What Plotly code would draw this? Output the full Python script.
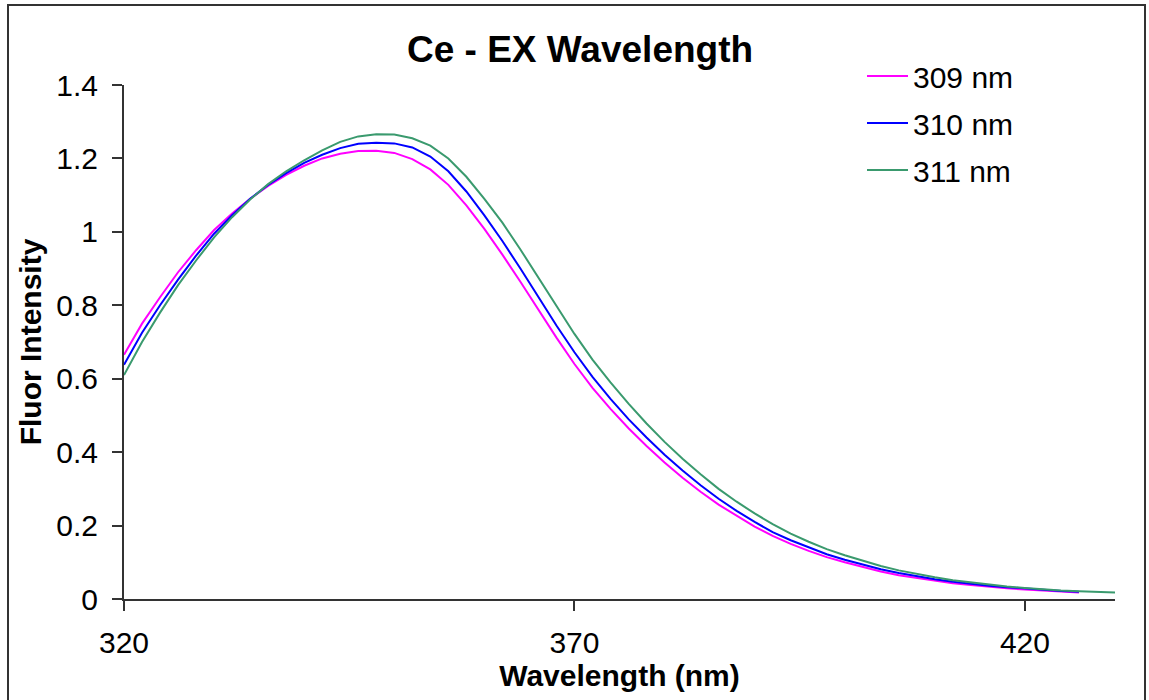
import plotly.graph_objects as go

wl_309 = list(range(320, 427, 2))
wl_310 = list(range(320, 427, 2))
wl_311 = list(range(320, 431, 2))

fi_309 = [0.665, 0.750, 0.822, 0.890, 0.950, 1.005, 1.050, 1.090, 1.125, 1.155,
          1.180, 1.200, 1.213, 1.220, 1.221, 1.215, 1.198, 1.170, 1.128, 1.072,
          1.008, 0.938, 0.864, 0.788, 0.712, 0.640, 0.575, 0.518, 0.465, 0.417,
          0.372, 0.330, 0.292, 0.257, 0.226, 0.197, 0.172, 0.150, 0.131, 0.114,
          0.100, 0.087, 0.075, 0.065, 0.057, 0.049, 0.043, 0.038, 0.033, 0.029,
          0.026, 0.023, 0.020, 0.018]
fi_310 = [0.638, 0.725, 0.800, 0.870, 0.935, 0.995, 1.045, 1.090, 1.128, 1.160,
          1.188, 1.210, 1.228, 1.240, 1.243, 1.241, 1.230, 1.205, 1.165, 1.110,
          1.045, 0.975, 0.900, 0.822, 0.745, 0.672, 0.605, 0.545, 0.490, 0.440,
          0.393, 0.350, 0.310, 0.273, 0.240, 0.210, 0.182, 0.160, 0.140, 0.122,
          0.107, 0.093, 0.081, 0.071, 0.062, 0.054, 0.047, 0.041, 0.036, 0.032,
          0.028, 0.025, 0.022, 0.020]
fi_311 = [0.610, 0.700, 0.780, 0.855, 0.922, 0.985, 1.040, 1.088, 1.130, 1.165,
          1.195, 1.222, 1.245, 1.260, 1.266, 1.265, 1.255, 1.235, 1.200, 1.150,
          1.090, 1.025, 0.952, 0.875, 0.798, 0.722, 0.652, 0.590, 0.532, 0.478,
          0.428, 0.382, 0.340, 0.300, 0.265, 0.233, 0.204, 0.178, 0.156, 0.136,
          0.119, 0.104, 0.090, 0.078, 0.068, 0.059, 0.051, 0.045, 0.039, 0.034,
          0.030, 0.026, 0.023, 0.021, 0.019, 0.018]

series_names = ["309 nm", "310 nm", "311 nm"]
series_colors = ["#FF00FF", "#0000FF", "#3A9A6E"]
x_ticks = [320, 370, 420]
y_ticks = [0, 0.2, 0.4, 0.6, 0.8, 1, 1.2, 1.4]
y_tick_text = ["0", "0.2", "0.4", "0.6", "0.8", "1", "1.2", "1.4"]

FONT = "Liberation Sans, Arial, sans-serif"

fig = go.Figure()
for i, (xs, ys) in enumerate([(wl_309, fi_309), (wl_310, fi_310), (wl_311, fi_311)]):
    fig.add_trace(go.Scatter(
        x=xs, y=ys, mode="lines", name=series_names[i],
        line=dict(color=series_colors[i], width=2),
        legendgroup=f"g{i}",
    ))

W, H = 1149, 700
L, R, T, B = 124, 34, 85, 101
pw, ph = W - L - R, H - T - B

def px(xp):
    return (xp - L) / pw

def py(yp):
    return (H - B - yp) / ph

fig.update_layout(
    width=W, height=H,
    margin=dict(l=L, r=R, t=T, b=B),
    paper_bgcolor="white", plot_bgcolor="white",
    font=dict(family=FONT, size=30, color="#000000"),
    showlegend=True,
    legend=dict(
        x=px(862), y=py(50), xanchor="left", yanchor="top",
        font=dict(family=FONT, size=30, color="#000000"),
        bgcolor="rgba(0,0,0,0)", tracegroupgap=5, itemwidth=41,
    ),
    xaxis=dict(
        range=[320, 430], tickvals=x_ticks, showgrid=False, zeroline=False,
        showline=True, linecolor="#333333", linewidth=2,
        ticks="outside", ticklen=10, tickwidth=2, tickcolor="#333333",
        tickfont=dict(family=FONT, size=30, color="#000000"),
        ticklabelstandoff=6,
        title=dict(text="<b>Wavelength (nm)</b>", font=dict(family=FONT, size=30, color="#000000"), standoff=0),
    ),
    yaxis=dict(
        range=[0, 1.4], tickvals=y_ticks, ticktext=y_tick_text, showgrid=False, zeroline=False,
        showline=True, linecolor="#333333", linewidth=2,
        ticks="outside", ticklen=10, tickwidth=2, tickcolor="#333333",
        tickfont=dict(family=FONT, size=30, color="#000000"),
        ticklabelstandoff=8,
        title=dict(text="<b>Fluor Intensity</b>", font=dict(family=FONT, size=30, color="#000000"), standoff=6),
    ),
    annotations=[dict(
        text="<b>Ce - EX Wavelength</b>", xref="paper", yref="paper",
        x=px(580), y=py(49), xanchor="center", yanchor="middle", showarrow=False,
        font=dict(family=FONT, size=37, color="#000000"),
    )],
    shapes=[dict(
        type="rect", xref="paper", yref="paper",
        x0=px(8), x1=px(1145), y0=py(720), y1=py(5),
        line=dict(color="#333333", width=2), fillcolor="rgba(0,0,0,0)", layer="below",
    )],
)

fig.write_html("out.html")
